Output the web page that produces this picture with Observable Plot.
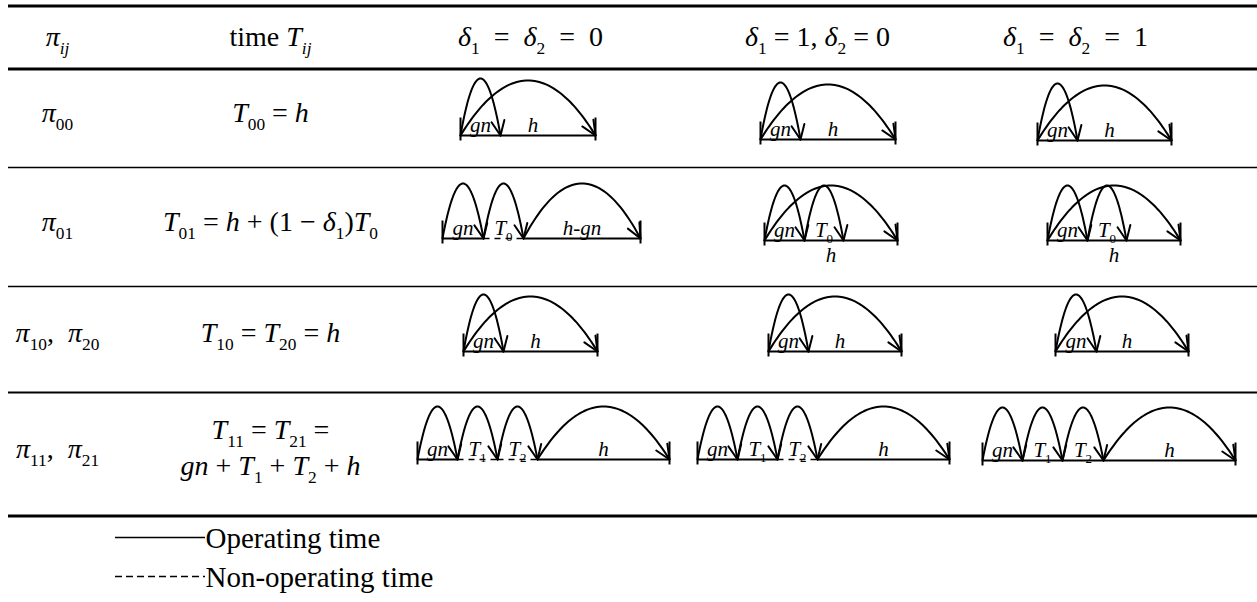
<!DOCTYPE html>
<html><head><meta charset="utf-8">
<script src="https://cdn.jsdelivr.net/npm/d3@7"></script>
<script src="https://cdn.jsdelivr.net/npm/@observablehq/plot@0.6"></script>
<style>
html,body{margin:0;padding:0;background:#fff;}
svg{display:block}
svg text, svg tspan{font-family:"Liberation Serif","Times New Roman",Times,serif !important;}
</style>
</head><body><div id="chart"></div>
<script>
// ---------------- data ----------------
const columnHeaders = ["π_{ij}", "time T_{ij}", "δ_{1}\u2002=\u2002δ_{2}\u2002=\u20020", "δ_{1}\u2005=\u20051,\u2005δ_{2}\u2005=\u20050", "δ_{1}\u2002=\u2002δ_{2}\u2002=\u20021"];
const stateLabels = ["π_{00}", "π_{01}", "π_{10},\u00A0\u00A0π_{20}", "π_{11},\u00A0\u00A0π_{21}"];
const timeFormulas = [
  ["T_{00} = h"],
  ["T_{01} = h + (1 − δ_{1})T_{0}"],
  ["T_{10} = T_{20} = h"],
  ["T_{11} = T_{21} =", "gn + T_{1} + T_{2} + h"]
];
// timeline breakpoints of each cell (row × δ-case)
const timelines = [
  [[460, 500, 595], [760, 800, 895], [1037, 1077, 1171]],
  [[442, 483, 523, 640], [764, 804, 843, 897], [1047, 1087, 1126, 1180]],
  [[463, 503, 597], [768, 808, 901], [1055, 1096, 1188]],
  [[417, 457, 497, 537, 669], [697, 737, 777, 817, 949], [982, 1022, 1062, 1103, 1235]]
];
// arcs: [from breakpoint, to breakpoint, label, label side]
const arcsRow0 = [[0, 1, "gn", "in"], [0, 2, "h", "in"]];
const arcsRow1a = [[0, 1, "gn", "in"], [1, 2, "T_{0}", "in"], [2, 3, "h-gn", "in"]];
const arcsRow1b = [[0, 1, "gn", "in"], [1, 2, "T_{0}", "in"], [0, 3, "h", "below"]];
const arcsRow3 = [[0, 1, "gn", "in"], [1, 2, "T_{1}", "in"], [2, 3, "T_{2}", "in"], [3, 4, "h", "in"]];
const arcSpecs = [
  [arcsRow0, arcsRow0, arcsRow0],
  [arcsRow1a, arcsRow1b, arcsRow1b],
  [arcsRow0, arcsRow0, arcsRow0],
  [arcsRow3, arcsRow3, arcsRow3]
];
// non-operating (dashed) intervals, by breakpoint index
const nonOperating = [
  [[], [], []],
  [[[1, 2]], [], []],
  [[], [], []],
  [[[1, 2], [2, 3]], [[2, 3]], []]
];
const legendLabels = ["Operating time", "Non-operating time"];

// ---------------- layout ----------------
const W = 1257, H = 602;
const L = {
  rules: [{y: 5.5, w: 3}, {y: 68.5, w: 3}, {y: 167, w: 1.3}, {y: 286, w: 1.3}, {y: 392, w: 2}, {y: 515.5, w: 3}],
  ruleX1: 8,
  colX: [57, 270, 530, 817, 1075],
  headerY: 37,
  stateY: [113, 222, 333, 449],
  formulaY: [[113], [222], [333], [430, 466]],
  base: [[135, 139, 140], [238, 240, 240], [351, 351, 351], [459, 459, 460]],
  legendX: [115, 205], legendY: [537, 576]
};

const mathFont = "Liberation Serif";
const FS = {head: 28, cell: 28, diag: 21, legend: 29};

// ---------------- build geometry ----------------
const arcPts = [], barbs = [], solid = [], dashed = [], ticks = [], diagLabels = [];
let arcId = 0;
timelines.forEach((row, r) => row.forEach((bp, c) => {
  const base = L.base[r][c];
  const dashSet = new Set(nonOperating[r][c].map(d => d.join("-")));
  for (let i = 0; i < bp.length - 1; i++) {
    const seg = {x1: bp[i], x2: bp[i + 1], y: base};
    (dashSet.has(i + "-" + (i + 1)) ? dashed : solid).push(seg);
  }
  [bp[0], bp[bp.length - 1]].forEach(x => ticks.push({x, y1: base - 18, y2: base + 5}));
  arcSpecs[r][c].forEach(([a, b, label, side]) => {
    const x0 = bp[a], x1 = bp[b], w = x1 - x0;
    const h = (label === "gn" && (r === 0 || r === 2)) ? 57 : (r === 3 ? 53 : 55);
    const p = 2;
    const N = 60;
    for (let k = 0; k <= N; k++) {
      const s = k / N;
      arcPts.push({id: arcId, x: x0 + s * w, y: base - h * (1 - Math.pow(Math.abs(2 * s - 1), p))});
    }
    arcId++;
    // arrowhead at the end
    const dx = -w, dy = -2 * p * h;
    const len = Math.hypot(dx, dy);
    const ux = dx / len, uy = dy / len, beta = 24 * Math.PI / 180, bl = 16;
    [beta, -beta].forEach(t => {
      const rx = ux * Math.cos(t) - uy * Math.sin(t), ry = ux * Math.sin(t) + uy * Math.cos(t);
      barbs.push({x1: x1, y1: base, x2: x1 + rx * bl, y2: base + ry * bl});
    });
    const cx = (x0 + x1) / 2 + (a === 0 && b === bp.length - 1 && side === "in" && bp.length === 3 ? 5 : 0);
    diagLabels.push({x: cx, y: side === "below" ? base + 15 : base - 10, text: label});
  });
}));

const headerData = columnHeaders.map((t, i) => ({x: L.colX[i], y: L.headerY, text: t}));
const stateData = stateLabels.map((t, i) => ({x: L.colX[0], y: L.stateY[i], text: t}));
const formulaData = timeFormulas.flatMap((lines, i) => lines.map((t, j) => ({x: L.colX[1], y: L.formulaY[i][j], text: t})));
const mathStrings = new Set([...columnHeaders, ...stateLabels, ...timeFormulas.flat(), ...diagLabels.map(d => d.text)]);

const chart = Plot.plot({
  width: W, height: H, margin: 0,
  x: {domain: [0, W], range: [0, W], axis: null},
  y: {domain: [0, H], range: [0, H], axis: null},
  style: {fontFamily: mathFont, background: "white", color: "black"},
  marks: [
    ...L.rules.map(rl => Plot.ruleY([rl.y], {x1: L.ruleX1, x2: W, strokeWidth: rl.w, stroke: "black"})),
    Plot.text(headerData, {x: "x", y: "y", text: "text", fontSize: FS.head, fill: "black"}),
    Plot.text(stateData, {x: "x", y: "y", text: "text", fontSize: FS.cell, fill: "black"}),
    Plot.text(formulaData, {x: "x", y: "y", text: "text", fontSize: FS.cell, fill: "black"}),
    Plot.link(solid, {x1: "x1", x2: "x2", y1: "y", y2: "y", stroke: "black", strokeWidth: 2}),
    Plot.link(dashed, {x1: "x1", x2: "x2", y1: "y", y2: "y", stroke: "black", strokeWidth: 1.6, strokeDasharray: "6,5"}),
    Plot.link(ticks, {x1: "x", x2: "x", y1: "y1", y2: "y2", stroke: "black", strokeWidth: 2}),
    Plot.line(arcPts, {x: "x", y: "y", z: "id", stroke: "black", strokeWidth: 2, curve: "linear"}),
    Plot.link(barbs, {x1: "x1", y1: "y1", x2: "x2", y2: "y2", stroke: "black", strokeWidth: 2, strokeLinecap: "round"}),
    Plot.text(diagLabels, {x: "x", y: "y", text: "text", fontSize: FS.diag, fill: "black"}),
    Plot.ruleY([L.legendY[0]], {x1: L.legendX[0], x2: L.legendX[1], stroke: "black", strokeWidth: 1.5}),
    Plot.ruleY([L.legendY[1]], {x1: L.legendX[0], x2: L.legendX[1], stroke: "black", strokeWidth: 1.5, strokeDasharray: "7,4"}),
    Plot.text(legendLabels, {x: L.legendX[1], y: (d, i) => L.legendY[i] + 1, text: d => d, textAnchor: "start", fontSize: FS.legend, fill: "black"})
  ]
});
document.getElementById("chart").appendChild(chart);

// rich text: italics for variables, subscripts
const NS = "http://www.w3.org/2000/svg";
function richify(el, s) {
  const fs = parseFloat(getComputedStyle(el).fontSize) || 20;
  const sh = fs * 0.26;
  el.textContent = "";
  const re = /_\{([^}]*)\}|(time )|([A-Za-zπδ]+)|([^A-Za-zπδ_]+)/g;
  let m, shifted = false;
  while ((m = re.exec(s))) {
    const t = document.createElementNS(NS, "tspan");
    if (m[1] !== undefined) {
      t.textContent = m[1];
      t.setAttribute("font-size", fs * 0.62);
      t.setAttribute("dy", sh);
      t.setAttribute("font-style", /[a-z]/.test(m[1]) ? "italic" : "normal");
      shifted = true;
    } else {
      if (shifted) { t.setAttribute("dy", -sh); shifted = false; }
      if (m[2]) { t.textContent = m[2]; t.setAttribute("font-style", "normal"); }
      else if (m[3]) { t.textContent = m[3]; t.setAttribute("font-style", "italic"); }
      else { t.textContent = m[4]; t.setAttribute("font-style", "normal"); }
    }
    el.appendChild(t);
  }
}
chart.querySelectorAll("text").forEach(el => {
  const s = el.textContent;
  if (mathStrings.has(s)) richify(el, s);
});
</script>
</body></html>
